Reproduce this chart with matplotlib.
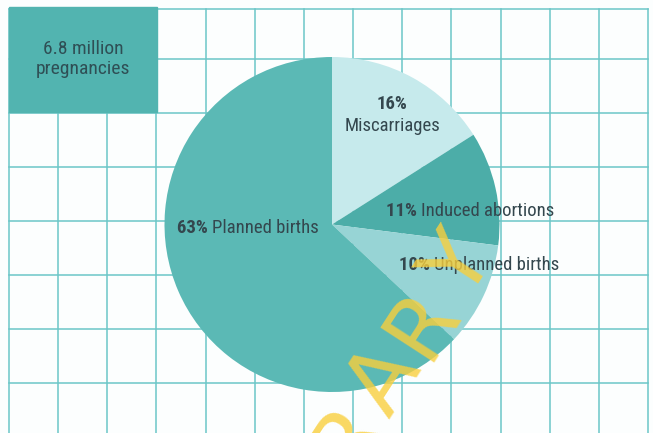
import matplotlib.pyplot as plt
import numpy as np

W, H = 653, 433

# pregnancy outcomes, clockwise from 12 o'clock
labels = ["Miscarriages", "Induced abortions", "Unplanned births", "Planned births"]
shares = [16, 11, 10, 63]
colors = ["#c6eaec", "#4cada8", "#97d4d5", "#5bb9b5"]

total_text = "6.8 million\npregnancies"
stamp = "LIBRARY"

ink = "#34474e"
grid_c = "#6cc6c8"
font = ["Roboto Condensed", "Liberation Sans Narrow", "DejaVu Sans"]


def img(x, y):
    # picture pixel coords (y down) -> axes data coords (y up)
    return x, H - y


fig = plt.figure(figsize=(W / 100, H / 100), dpi=100)
fig.patch.set_facecolor("#fcfefe")
ax = fig.add_axes([0, 0, 1, 1])

# graph paper background
for x in np.linspace(9, 648, 14):
    ax.plot([x, x], [0, H - 9], color=grid_c, lw=1.1, zorder=0)
for y in [9, 59, 113, 167, 221, 275, 329, 383]:
    ax.plot([9, 648], [H - y, H - y], color=grid_c, lw=1.1, zorder=0)

# total box
ax.add_patch(plt.Rectangle(img(9, 112), 148, 105, color="#52b4b0", zorder=2))
ax.text(*img(83, 59), total_text, ha="center", va="center", fontsize=14,
        color="#2f4f55", family=font, linespacing=1.1, zorder=3)

# pie
cx, cy = img(332, 224.5)
ax.pie(shares, colors=colors, startangle=90, counterclock=False,
       center=(cx, cy), radius=167.5, frame=True,
       wedgeprops=dict(linewidth=0))
ax.set_xlim(0, W)
ax.set_ylim(0, H)
ax.set_aspect("equal")
ax.axis("off")

# labels
fs = 13.5
ax.text(*img(392, 104), f"{shares[0]}%", ha="center", va="center",
        fontsize=fs, fontweight="bold", color=ink, family=font, zorder=4)
ax.text(*img(392, 126), labels[0], ha="center", va="center",
        fontsize=fs, color=ink, family=font, zorder=4)

spots = {1: (386, 211), 2: (399, 265), 3: (177, 228)}
for i, (x, y) in spots.items():
    t = ax.text(*img(x, y), f"{shares[i]}% ", ha="left", va="center",
                fontsize=fs, fontweight="bold", color=ink, family=font, zorder=4)
    ax.annotate(labels[i], xycoords=t, xy=(1, 0.5), va="center", ha="left",
                fontsize=fs, color=ink, family=font, zorder=4)

# library stamp, one letter at a time so the spacing stays wide
ang = np.deg2rad(57)
step = 68
last = np.array(img(460, 267))
for k, ch in enumerate(stamp):
    n = len(stamp) - 1 - k
    px, py = last - n * step * np.array([np.cos(ang), np.sin(ang)])
    ax.text(px, py, ch, rotation=57, rotation_mode="anchor",
            ha="center", va="center", fontsize=64,
            family="DejaVu Sans",
            color="#f9cf3c", alpha=0.8, zorder=5, clip_on=True)

fig.savefig("out.png", dpi=100, facecolor=fig.get_facecolor())
